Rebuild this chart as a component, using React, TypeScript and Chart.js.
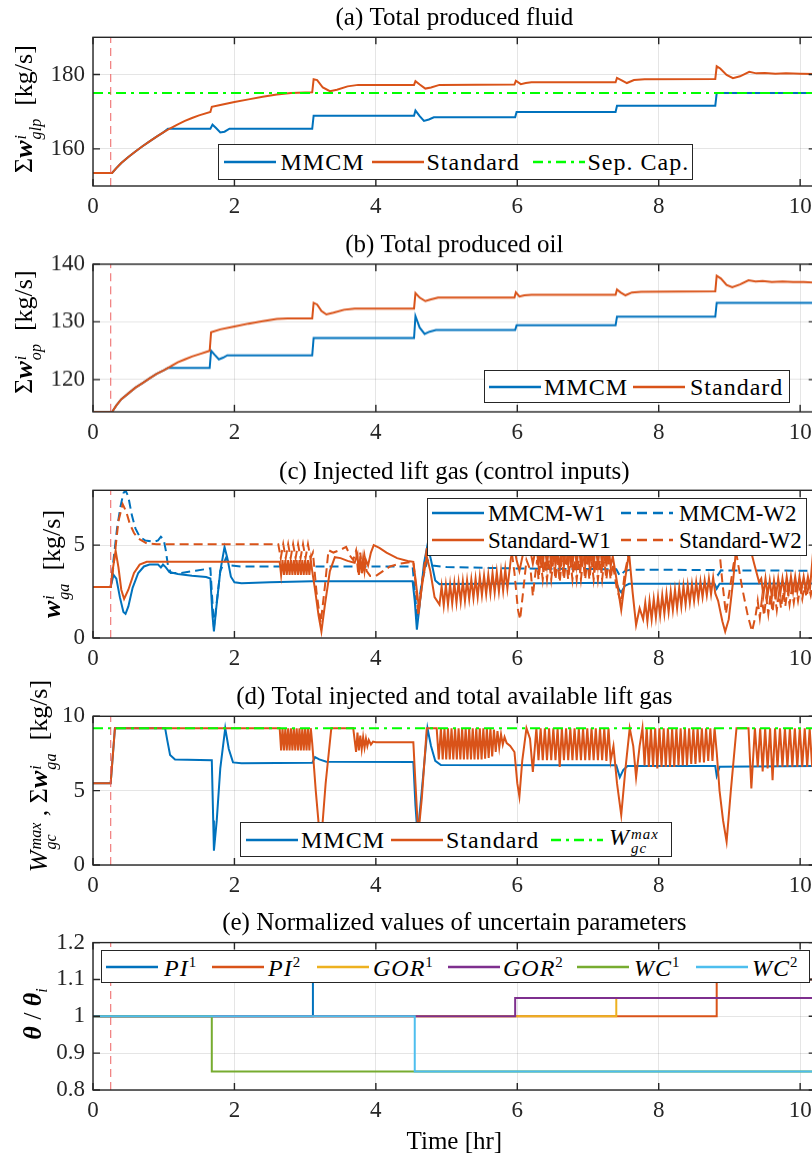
import React, { useEffect, useRef } from 'react';
import Chart from 'chart.js/auto';

type P = [number, number];

// ---------- axes / ticks ----------
const X_MAX = 10.22;
const EVENT_T = 0.25;
const xTickValues = [0, 2, 4, 6, 8, 10];
const aTickValues = [160, 180];
const bTickValues = [120, 130, 140];
const cTickValues = [0, 5];
const dTickValues = [0, 5, 10];
const eTickValues = [0.8, 0.9, 1, 1.1, 1.2];

// ---------- (a) Total produced fluid ----------
const aMmcm: P[] = [[0,153.5],[0.27,153.5],[0.33,154.8],[0.4,156.2],[0.5,157.8],[0.6,159.3],[0.7,160.7],[0.8,162],[0.9,163.3],[1.0,164.5],[1.06,165.4],[1.66,165.4],[1.69,166.5],[1.74,165.6],[1.8,164.4],[1.86,164.6],[1.93,165.4],[3.1,165.4],[3.12,168.9],[4.54,168.9],[4.56,170.3],[4.62,168.8],[4.68,167.5],[4.75,167.9],[4.82,168.5],[5.97,168.5],[5.99,169.9],[7.39,169.9],[7.41,171.6],[8.8,171.6],[8.82,175.0],[10.22,175.0]];
const aStandard: P[] = [[0,153.5],[0.27,153.5],[0.33,154.8],[0.4,156.2],[0.5,157.8],[0.6,159.3],[0.7,160.7],[0.8,162],[0.9,163.3],[1.0,164.5],[1.1,165.6],[1.2,166.6],[1.3,167.5],[1.4,168.3],[1.5,169],[1.66,169.9],[1.68,171.3],[1.8,171.8],[2.0,172.6],[2.2,173.3],[2.4,174],[2.6,174.6],[2.8,175],[3.1,175.2],[3.12,178.7],[3.17,178.5],[3.25,176.5],[3.35,175.5],[3.45,175.9],[3.6,176.8],[3.75,177.2],[4.54,177.2],[4.56,178.2],[4.62,177.3],[4.7,176.2],[4.78,176.5],[4.9,177.2],[5.96,177.3],[5.98,178.3],[6.05,177.4],[6.12,177.7],[6.2,177.9],[7.39,177.9],[7.41,179.1],[7.47,178.5],[7.55,177.7],[7.65,178.5],[7.8,178.7],[8.8,178.8],[8.82,182.2],[8.87,181.6],[8.96,179.9],[9.05,179.0],[9.15,179.5],[9.28,180.7],[9.38,180.3],[9.5,180.4],[9.65,180.2],[9.8,180.3],[10.0,180.2],[10.22,180.1]];
const aSepCap: P[] = [[0,175],[10.22,175]];

// ---------- (b) Total produced oil ----------
const bMmcm: P[] = [[0,114.4],[0.27,114.4],[0.33,115.5],[0.4,116.6],[0.5,117.6],[0.6,118.6],[0.7,119.4],[0.8,120.2],[0.9,121],[1.0,121.6],[1.06,122],[1.65,122],[1.67,125],[1.72,124.3],[1.78,123.5],[1.84,123.8],[1.9,124.2],[3.1,124.2],[3.12,127.2],[4.54,127.2],[4.56,131.0],[4.62,129.0],[4.69,127.9],[4.76,128.3],[4.85,128.6],[5.97,128.6],[5.99,129.4],[7.39,129.4],[7.41,130.9],[8.8,130.9],[8.82,133.3],[10.22,133.3]];
const bStandard: P[] = [[0,114.4],[0.27,114.4],[0.33,115.5],[0.4,116.6],[0.5,117.6],[0.6,118.6],[0.7,119.4],[0.8,120.2],[0.9,121],[1.0,121.6],[1.1,122.3],[1.2,123],[1.3,123.5],[1.4,124],[1.5,124.4],[1.65,125],[1.67,128.2],[1.8,128.7],[2.0,129.2],[2.2,129.7],[2.4,130.1],[2.6,130.5],[2.75,130.6],[3.1,130.6],[3.12,133.3],[3.17,133],[3.23,131.9],[3.3,131.3],[3.4,131.6],[3.55,132.1],[3.7,132.3],[4.54,132.3],[4.56,135],[4.62,134.2],[4.7,133.6],[4.78,133.9],[4.88,134.2],[5.96,134.2],[5.98,135.1],[6.03,134.4],[6.1,134.6],[6.2,134.7],[7.39,134.7],[7.41,135.6],[7.46,135.1],[7.53,134.6],[7.62,135.1],[7.75,135.2],[8.8,135.3],[8.82,138],[8.88,137.5],[8.96,136.4],[9.04,136],[9.15,136.5],[9.27,137.2],[9.37,137],[9.47,137.1],[9.6,136.9],[9.75,137],[9.9,136.9],[10.05,136.9],[10.22,136.8]];

// ---------- (c) Injected lift gas ----------
const cMmcmW1: P[] = [[0,2.75],[0.25,2.75],[0.29,3.4],[0.33,3.2],[0.38,2.2],[0.43,1.4],[0.46,1.3],[0.5,1.7],[0.56,2.7],[0.64,3.5],[0.72,3.85],[0.8,3.95],[0.92,3.95],[0.96,3.8],[0.99,3.95],[1.03,3.8],[1.08,3.55],[1.2,3.45],[1.4,3.35],[1.6,3.28],[1.66,3.2],[1.69,1.2],[1.71,0.35],[1.74,1.5],[1.8,3.6],[1.86,4.9],[1.9,4.3],[1.95,3.3],[2.0,3.0],[2.1,2.95],[2.5,3.0],[3.1,3.05],[4.52,3.05],[4.55,2.0],[4.58,0.45],[4.62,1.8],[4.68,4.0],[4.73,5.0],[4.78,4.2],[4.84,3.1],[4.9,2.9],[5.5,2.92],[7.4,2.98],[7.44,2.6],[7.47,2.45],[7.52,2.8],[7.58,2.92],[8.79,2.92],[8.82,2.65],[8.86,2.92],[10.22,2.93]];
const cMmcmW2: P[] = [[0,2.75],[0.25,2.75],[0.29,4.2],[0.34,5.9],[0.39,7.1],[0.43,7.8],[0.46,7.95],[0.5,7.6],[0.55,6.6],[0.6,5.9],[0.66,5.45],[0.74,5.25],[0.86,5.18],[0.92,5.25],[0.96,5.45],[1.0,5.3],[1.03,4.7],[1.06,3.9],[1.1,3.5],[1.25,3.5],[1.45,3.62],[1.66,3.75],[1.71,0.6],[1.8,3.6],[1.88,4.3],[1.95,3.9],[2.1,3.85],[4.52,3.85],[4.58,1.2],[4.65,3.0],[4.73,4.2],[4.8,3.9],[5.0,3.82],[6.0,3.74],[7.4,3.7],[7.45,3.35],[7.52,3.6],[7.6,3.68],[8.8,3.66],[8.84,3.4],[8.88,3.64],[10.22,3.62]];
const cStandardW1: P[] = [[0,2.75],[0.25,2.75],[0.28,3.7],[0.32,4.7],[0.36,3.8],[0.4,2.6],[0.44,2.1],[0.5,2.6],[0.58,3.5],[0.66,3.95],[0.76,4.1],[2.62,4.1],
  [2.64,4.1],[2.66,3.4],[2.68,4.2],[2.70,3.4],[2.72,4.2],[2.74,3.4],[2.76,4.2],[2.78,3.4],[2.80,4.2],[2.82,3.4],[2.84,4.2],[2.86,3.4],[2.88,4.2],[2.90,3.4],[2.92,4.2],[2.94,3.4],[2.96,4.2],[2.98,3.4],[3.00,4.2],[3.02,3.4],[3.04,4.2],[3.06,3.4],[3.08,4.2],[3.10,3.6],
  [3.14,2.6],[3.19,1.2],[3.23,0.35],[3.28,1.8],[3.35,3.6],[3.42,4.35],[3.5,4.3],[3.6,4.15],[3.7,4.05],[3.74,4.5],[3.76,3.4],[3.78,4.4],[3.8,3.5],[3.82,4.3],[3.84,3.6],[3.86,4.2],[3.89,3.9],[3.93,4.6],[3.97,5.0],[4.05,4.85],[4.15,4.6],[4.3,4.3],[4.45,4.15],[4.53,4.1],[4.56,3.2],[4.61,1.6],[4.66,3.0],[4.72,4.4],[4.77,3.6],[4.83,2.2],[4.9,1.8],
  [4.93,2.8],[4.96,1.75],[4.99,2.85],[5.02,1.8],[5.05,2.9],[5.08,1.85],[5.11,2.95],[5.14,1.9],[5.17,3.0],[5.2,1.95],[5.23,3.05],[5.26,2.0],[5.29,3.1],[5.32,2.1],[5.35,3.15],[5.38,2.15],[5.41,3.2],[5.44,2.2],[5.47,3.3],[5.5,2.3],[5.53,3.35],[5.56,2.35],[5.59,3.4],[5.62,2.4],[5.65,3.5],[5.68,2.45],[5.71,3.55],[5.74,2.5],[5.77,3.6],[5.8,2.55],[5.83,3.7],[5.86,2.65],
  [5.91,4.3],[5.95,5.0],[5.99,4.2],[6.03,3.6],[6.08,4.5],[6.13,5.0],[6.19,4.6],[6.22,4.0],[6.25,4.6],[6.27,5.0],
  [6.30,3.9],[6.33,5.0],[6.36,3.9],[6.39,5.0],[6.42,3.9],[6.45,5.0],[6.48,3.9],[6.51,5.0],[6.54,3.9],[6.57,5.0],[6.60,3.6],[6.63,5.0],[6.66,3.9],[6.69,5.0],[6.72,3.9],[6.75,5.0],[6.78,3.9],[6.81,5.0],[6.84,3.9],[6.87,5.0],[6.90,3.9],[6.93,5.0],[6.96,3.9],[6.99,5.0],[7.02,3.9],[7.05,5.0],[7.08,3.9],[7.11,5.0],[7.14,3.9],[7.17,5.0],[7.20,3.9],[7.23,5.0],[7.26,3.85],[7.29,5.0],[7.32,3.85],
  [7.35,4.4],[7.41,3.0],[7.47,1.5],[7.53,3.3],[7.58,4.6],[7.63,2.5],[7.68,0.7],[7.73,1.6],[7.78,1.0],
  [7.81,1.9],[7.84,0.9],[7.87,2.0],[7.9,1.0],[7.93,2.1],[7.96,1.1],[7.99,2.2],[8.02,1.2],[8.05,2.3],[8.08,1.3],[8.11,2.4],[8.14,1.4],[8.17,2.5],[8.2,1.5],[8.23,2.6],[8.26,1.6],[8.29,2.7],[8.32,1.7],[8.35,2.8],[8.38,1.8],[8.41,2.85],[8.44,1.9],[8.47,2.9],[8.5,2.0],[8.53,3.0],[8.56,2.1],[8.59,3.05],[8.62,2.2],[8.65,3.1],[8.68,2.3],[8.71,3.2],[8.74,2.35],[8.77,3.25],[8.8,2.4],
  [8.84,2.0],[8.9,0.9],[8.94,0.35],[8.99,1.0],[9.05,3.0],[9.1,5.0],[9.15,6.0],[9.25,5.5],[9.35,4.0],[9.42,3.0],
  [9.45,3.2],[9.48,2.3],[9.51,3.2],[9.54,2.3],[9.57,3.1],[9.60,2.2],[9.63,3.1],[9.66,2.3],[9.69,3.2],[9.72,2.4],[9.75,3.2],[9.78,2.4],[9.81,3.3],[9.84,2.5],[9.87,3.3],[9.90,2.5],[9.93,3.3],[9.96,2.5],[9.99,3.3],[10.02,2.6],[10.05,3.3],[10.08,2.6],[10.11,3.3],[10.14,2.7],[10.18,4.5],[10.22,6.0]];
const cStandardW2: P[] = [[0,2.75],[0.25,2.75],[0.3,4.2],[0.36,6.3],[0.42,7.2],[0.47,6.8],[0.52,6.15],[0.58,5.65],[0.64,5.36],[0.76,5.09],[0.9,5.05],[2.62,5.05],
  [2.655,4.3],[2.69,5.05],[2.725,4.3],[2.76,5.05],[2.795,4.3],[2.83,5.05],[2.865,4.3],[2.9,5.05],[2.935,4.3],[2.97,5.05],[3.005,4.3],[3.04,5.05],[3.075,4.3],[3.11,4.6],
  [3.16,2.5],[3.22,0.8],[3.28,2.8],[3.33,4.73],[3.4,4.6],[3.5,4.75],[3.58,4.9],[3.64,4.4],[3.68,4.2],[3.72,4.7],[3.75,3.5],[3.78,4.6],[3.81,3.4],[3.84,4.4],[3.87,3.6],[3.92,3.34],[4.0,3.34],[4.1,3.6],[4.2,3.85],[4.34,4.0],[4.53,4.1],
  [4.56,3.0],[4.6,1.2],[4.66,3.2],[4.72,4.8],[4.8,5.6],[4.9,6.2],[5.3,5.9],[5.86,5.6],
  [5.91,5.0],[5.96,3.5],[6.01,1.5],[6.04,1.0],[6.08,2.4],[6.13,4.2],[6.19,3.6],[6.22,2.26],[6.25,3.3],[6.28,4.2],
  [6.30,3.15],[6.33,4.2],[6.36,3.15],[6.39,4.2],[6.42,3.15],[6.45,4.2],[6.48,3.15],[6.51,4.2],[6.54,3.15],[6.57,4.2],[6.60,3.0],[6.63,4.2],[6.66,3.15],[6.69,4.2],[6.72,3.15],[6.75,4.2],[6.78,3.15],[6.81,4.2],[6.84,3.15],[6.87,4.2],[6.90,3.15],[6.93,4.2],[6.96,3.15],[6.99,4.2],[7.02,3.15],[7.05,4.2],[7.08,3.15],[7.11,4.2],[7.14,3.15],[7.17,4.2],[7.20,3.15],[7.23,4.2],[7.26,3.15],[7.29,4.2],[7.32,3.15],
  [7.35,4.0],[7.41,2.6],[7.47,1.9],[7.52,3.5],[7.58,4.6],[7.63,4.9],[7.68,5.2],[7.75,5.8],[8.2,6.0],[8.8,6.1],
  [8.84,5.5],[8.9,3.0],[8.95,1.3],[9.0,2.5],[9.06,4.0],[9.1,4.5],[9.18,2.7],[9.26,1.2],[9.32,0.36],[9.37,1.2],
  [9.4,2.0],[9.43,1.1],[9.46,2.1],[9.49,1.2],[9.52,2.2],[9.55,1.3],[9.58,2.3],[9.61,1.4],[9.64,2.4],[9.67,1.5],[9.7,2.4],[9.73,1.6],[9.76,2.5],[9.79,1.7],[9.82,2.6],[9.85,1.8],[9.88,2.6],[9.91,1.9],[9.94,2.7],[9.97,2.0],[10.0,2.7],[10.03,2.1],[10.06,2.8],[10.09,2.2],[10.12,2.8],[10.15,2.3],[10.18,2.9],[10.22,2.5]];

// ---------- (d) Total injected / available lift gas ----------
const dMmcm: P[] = [[0,5.5],[0.25,5.5],[0.31,9.2],[1.02,9.2],[1.05,8.4],[1.09,7.4],[1.16,7.1],[1.68,7.05],[1.7,3.0],[1.71,0.96],[1.75,3.0],[1.8,6.5],[1.87,9.2],[1.92,7.8],[1.98,6.9],[2.1,6.85],[3.1,6.87],[3.14,7.25],[3.2,7.1],[3.3,6.95],[4.53,6.93],[4.56,4.0],[4.59,2.0],[4.64,4.5],[4.73,9.2],[4.78,8.0],[4.84,7.0],[4.92,6.72],[7.4,6.7],[7.45,5.9],[7.5,6.4],[7.56,6.65],[8.8,6.65],[8.82,6.0],[8.86,6.6],[10.22,6.65]];
const dStandard: P[] = [[0,5.5],[0.25,5.5],[0.31,9.2],[2.64,9.2],
  [2.66,7.7],[2.68,9.2],[2.70,7.7],[2.72,9.2],[2.74,7.7],[2.76,9.2],[2.78,7.7],[2.80,9.2],[2.82,7.7],[2.84,9.2],[2.86,7.7],[2.88,9.2],[2.90,7.7],[2.92,9.2],[2.94,7.7],[2.96,9.2],[2.98,7.7],[3.00,9.2],[3.02,7.7],[3.04,9.2],[3.06,7.7],[3.08,9.2],[3.10,8.2],
  [3.15,5.0],[3.22,1.2],[3.29,5.5],[3.37,9.2],[3.68,9.2],[3.72,7.6],[3.74,8.9],[3.76,7.7],[3.78,8.7],[3.8,7.8],[3.82,8.6],[3.84,7.9],[3.86,8.5],[3.88,8.0],[3.9,8.4],[3.93,8.1],[3.96,8.3],[4.0,8.25],[4.53,8.25],[4.56,5.5],[4.6,2.0],[4.65,4.5],[4.72,9.2],[4.86,9.2],
  [4.89,7.1],[4.92,9.2],[4.945,7.1],[4.97,9.2],[4.995,7.1],[5.02,9.2],[5.045,7.1],[5.07,9.2],[5.095,7.1],[5.12,9.2],[5.145,7.1],[5.17,9.2],[5.195,7.1],[5.22,9.2],[5.245,7.1],[5.27,9.2],[5.295,7.1],[5.32,9.2],[5.345,7.1],[5.37,9.2],[5.395,7.1],[5.42,9.2],[5.445,7.1],[5.47,9.2],[5.495,7.1],[5.52,9.2],[5.545,7.15],[5.57,9.2],[5.595,7.2],[5.62,9.2],[5.645,7.3],[5.67,9.1],[5.695,7.6],[5.72,9.0],[5.745,7.9],[5.77,8.8],[5.795,8.1],[5.82,8.6],[5.85,8.2],[5.9,8.0],[5.96,7.6],[6.0,5.5],[6.03,4.6],[6.07,7.0],[6.13,9.2],[6.18,8.5],[6.22,6.26],[6.25,8.0],[6.27,9.2],
  [6.30,7.05],[6.33,9.2],[6.36,7.05],[6.39,9.2],[6.42,7.05],[6.45,9.2],[6.48,7.05],[6.51,9.2],[6.54,7.05],[6.57,9.2],[6.60,6.6],[6.63,9.2],[6.66,7.05],[6.69,9.2],[6.72,7.05],[6.75,9.2],[6.78,7.05],[6.81,9.2],[6.84,7.05],[6.87,9.2],[6.90,7.05],[6.93,9.2],[6.96,7.05],[6.99,9.2],[7.02,7.05],[7.05,9.2],[7.08,7.05],[7.11,9.2],[7.14,7.05],[7.17,9.2],[7.20,7.05],[7.23,9.2],[7.26,7.0],[7.29,9.2],[7.32,7.0],
  [7.36,8.0],[7.41,5.5],[7.47,3.36],[7.53,6.5],[7.59,9.2],[7.64,8.0],[7.68,5.9],[7.73,8.0],[7.77,9.2],
  [7.80,6.7],[7.83,9.2],[7.86,6.6],[7.89,9.2],[7.92,6.6],[7.95,9.2],[7.98,6.5],[8.01,9.2],[8.04,6.6],[8.07,9.2],[8.10,6.6],[8.13,9.2],[8.16,6.6],[8.19,9.2],[8.22,6.6],[8.25,9.2],[8.28,6.7],[8.31,9.2],[8.34,6.7],[8.37,9.2],[8.40,6.7],[8.43,9.2],[8.46,6.8],[8.49,9.2],[8.52,6.8],[8.55,9.2],[8.58,6.9],[8.61,9.2],[8.64,6.9],[8.67,9.2],[8.70,7.0],[8.73,9.2],[8.76,7.0],[8.79,9.2],[8.82,7.6],
  [8.86,5.0],[8.91,3.0],[8.96,1.57],[9.02,5.0],[9.1,9.2],[9.27,9.2],[9.31,5.15],[9.36,9.2],
  [9.40,6.6],[9.435,9.2],[9.47,6.3],[9.505,9.2],[9.54,6.5],[9.575,9.2],[9.61,5.7],[9.645,9.2],[9.68,6.6],[9.715,9.2],[9.75,6.6],[9.785,9.2],[9.82,6.6],[9.855,9.2],[9.89,6.6],[9.925,9.2],[9.96,6.6],[9.995,9.2],[10.03,6.6],[10.065,9.2],[10.10,6.6],[10.135,9.2],[10.17,6.6],[10.205,9.2],[10.22,8.5]];
const dWgcMax: P[] = [[0,9.2],[10.22,9.2]];

// ---------- (e) Normalized uncertain parameters ----------
const ePI1: P[] = [[0,1],[3.11,1],[3.11,1.1],[10.22,1.1]];
const ePI2: P[] = [[0,1],[8.82,1],[8.82,1.1],[10.22,1.1]];
const eGOR1: P[] = [[0,1],[7.4,1],[7.4,1.05],[10.22,1.05]];
const eGOR2: P[] = [[0,1],[5.97,1],[5.97,1.05],[10.22,1.05]];
const eWC1: P[] = [[0,1],[1.68,1],[1.68,0.85],[10.22,0.85]];
const eWC2: P[] = [[0,1],[4.55,1],[4.55,0.85],[10.22,0.85]];

// ---------- styles ----------
const SERIF = '"Liberation Serif", "DejaVu Serif", "Noto Serif", serif';
const C_BLUE = '#0072BD';
const C_ORANGE = '#D95319';
const C_YELLOW = '#EDB120';
const C_PURPLE = '#7E2F8E';
const C_GREEN = '#77AC30';
const C_CYAN = '#4DBEEE';
const C_LIME = '#00FF00';
const C_EVENT = 'rgba(236,90,90,0.8)';
const AX = '#262626';
const DASHED = [9, 5];
const DASHDOT = [10, 5, 3, 5];
const CANVAS_W = 850;
const PLOT_LEFT = 93;
const PLOT_RIGHT = 815.7;

type Series = { data: P[]; color: string; dash?: number[]; width?: number };
type Panel = {
  id: string; title: string; top: number; plotTop: number; plotBottom: number; xAxisH: number;
  yMin: number; yMax: number; yTicks: number[]; series: Series[]; xTitle?: string;
};

const PANELS: Panel[] = [
  { id: 'a', title: '(a) Total produced fluid', top: 1, plotTop: 37.3, plotBottom: 186, xAxisH: 36,
    yMin: 150, yMax: 190, yTicks: aTickValues,
    series: [{ data: aMmcm, color: C_BLUE }, { data: aStandard, color: C_ORANGE }, { data: aSepCap, color: C_LIME, dash: DASHDOT }] },
  { id: 'b', title: '(b) Total produced oil', top: 228, plotTop: 264, plotBottom: 411.7, xAxisH: 36,
    yMin: 114.4, yMax: 140, yTicks: bTickValues,
    series: [{ data: bMmcm, color: C_BLUE }, { data: bStandard, color: C_ORANGE }] },
  { id: 'c', title: '(c) Injected lift gas (control inputs)', top: 454.7, plotTop: 490, plotBottom: 638.3, xAxisH: 36,
    yMin: 0, yMax: 7.95, yTicks: cTickValues,
    series: [
      { data: cMmcmW1, color: C_BLUE }, { data: cMmcmW2, color: C_BLUE, dash: DASHED },
      { data: cStandardW1, color: C_ORANGE }, { data: cStandardW2, color: C_ORANGE, dash: DASHED }] },
  { id: 'd', title: '(d) Total injected and total available lift gas', top: 679.7, plotTop: 716, plotBottom: 865, xAxisH: 36,
    yMin: 0, yMax: 10, yTicks: dTickValues,
    series: [{ data: dMmcm, color: C_BLUE }, { data: dStandard, color: C_ORANGE }, { data: dWgcMax, color: C_LIME, dash: DASHDOT }] },
  { id: 'e', title: '(e) Normalized values of uncertain parameters', top: 905.7, plotTop: 942.3, plotBottom: 1090, xAxisH: 67,
    yMin: 0.8, yMax: 1.2, yTicks: eTickValues, xTitle: 'Time [hr]',
    series: [
      { data: ePI1, color: C_BLUE }, { data: ePI2, color: C_ORANGE }, { data: eGOR1, color: C_YELLOW },
      { data: eGOR2, color: C_PURPLE }, { data: eWC1, color: C_GREEN }, { data: eWC2, color: C_CYAN }] },
];

const boxPlugin = {
  id: 'boxTicks',
  afterDatasetsDraw(chart: any) {
    const { ctx, chartArea, scales } = chart;
    const { left, right, top, bottom } = chartArea;
    ctx.save();
    ctx.strokeStyle = AX;
    ctx.lineWidth = 1.4;
    ctx.strokeRect(left, top, right - left, bottom - top);
    const L = 7;
    ctx.beginPath();
    scales.x.ticks.forEach((t: any) => {
      const px = scales.x.getPixelForValue(t.value);
      ctx.moveTo(px, bottom); ctx.lineTo(px, bottom - L);
      ctx.moveTo(px, top); ctx.lineTo(px, top + L);
    });
    scales.y.ticks.forEach((t: any) => {
      const py = scales.y.getPixelForValue(t.value);
      ctx.moveTo(left, py); ctx.lineTo(left + L, py);
      ctx.moveTo(right, py); ctx.lineTo(right - L, py);
    });
    ctx.stroke();
    ctx.restore();
  },
};

const fmtTick = (v: any) => String(Math.round(Number(v) * 1000) / 1000);

function PanelChart({ panel }: { panel: Panel }) {
  const ref = useRef<HTMLCanvasElement | null>(null);
  const height = panel.plotBottom - panel.top + panel.xAxisH;
  useEffect(() => {
    if (!ref.current) return;
    const n = panel.series.length;
    const datasets: any[] = panel.series.map((s, i) => ({
      data: s.data.map(([x, y]) => ({ x, y })),
      borderColor: s.color,
      borderWidth: s.width ?? 2,
      borderDash: s.dash ?? [],
      pointRadius: 0,
      fill: false,
      tension: 0,
      order: n - i,
    }));
    datasets.push({
      data: [{ x: EVENT_T, y: panel.yMin }, { x: EVENT_T, y: panel.yMax }],
      borderColor: C_EVENT, borderWidth: 1.2, borderDash: [8, 5], pointRadius: 0, fill: false, order: -1,
    });
    const tickFont = { family: SERIF, size: 23 };
    const chart = new Chart(ref.current, {
      type: 'line',
      data: { datasets },
      plugins: [boxPlugin],
      options: {
        animation: false,
        responsive: false,
        devicePixelRatio: 1,
        events: [],
        layout: { padding: { left: 0, right: CANVAS_W - PLOT_RIGHT, top: 0, bottom: 0 } },
        plugins: {
          legend: { display: false },
          tooltip: { enabled: false },
          title: {
            display: true, text: panel.title, fullSize: false, color: '#000',
            font: { family: SERIF, size: 25, weight: 'normal' },
            padding: { top: 2, bottom: panel.plotTop - panel.top - 32 },
          },
        },
        scales: {
          x: {
            type: 'linear', min: 0, max: X_MAX,
            afterBuildTicks: (s: any) => { s.ticks = xTickValues.map((v) => ({ value: v })); },
            afterFit: (s: any) => { s.height = panel.xAxisH; },
            ticks: { font: tickFont, color: AX, padding: 7, autoSkip: false, maxRotation: 0, minRotation: 0, callback: fmtTick },
            grid: { color: 'rgba(0,0,0,0.1)', drawTicks: false, lineWidth: 1 },
            border: { display: false },
            title: panel.xTitle
              ? { display: true, text: panel.xTitle, color: '#000', font: { family: SERIF, size: 25 }, padding: { top: 0, bottom: 0 } }
              : { display: false },
          },
          y: {
            type: 'linear', min: panel.yMin, max: panel.yMax,
            afterBuildTicks: (s: any) => { s.ticks = panel.yTicks.map((v) => ({ value: v })); },
            afterFit: (s: any) => { s.width = PLOT_LEFT; },
            ticks: { font: tickFont, color: AX, padding: 8, autoSkip: false, callback: fmtTick },
            grid: { color: 'rgba(0,0,0,0.1)', drawTicks: false, lineWidth: 1 },
            border: { display: false },
          },
        },
      } as any,
    });
    return () => chart.destroy();
  }, [panel]);
  return (
    <div style={{ position: 'absolute', left: 0, top: panel.top, width: CANVAS_W, height }}>
      <canvas ref={ref} width={CANVAS_W} height={height} style={{ width: CANVAS_W, height, display: 'block' }} />
    </div>
  );
}

// ---------- math-ish text helpers ----------
function SS({ sup, sub }: { sup: string; sub: string }) {
  return (
    <span style={{ display: 'inline-flex', flexDirection: 'column', fontSize: '0.62em', lineHeight: 0.95, verticalAlign: '0.38em', marginLeft: 1, fontStyle: 'italic' }}>
      <span>{sup}</span><span>{sub}</span>
    </span>
  );
}
const W = () => <b><i>w</i></b>;

function YLabel({ cx, cy, children }: { cx: number; cy: number; children: React.ReactNode }) {
  return (
    <div style={{ position: 'absolute', left: cx, top: cy, transform: 'translate(-50%,-50%) rotate(-90deg)', whiteSpace: 'nowrap', fontSize: 26, lineHeight: 1, fontFamily: SERIF, color: '#000' }}>
      {children}
    </div>
  );
}

type LItem = { label: React.ReactNode; color: string; dash?: string; lx: number; tx: number; row: number };
function Legend({ left, top, width, height, items, fontSize, spacing }: { left: number; top: number; width: number; height: number; items: LItem[]; fontSize: number; spacing: number }) {
  return (
    <div style={{ position: 'absolute', left, top, width, height, boxSizing: 'border-box', border: `1.4px solid ${AX}`, background: '#fff', fontFamily: SERIF }}>
      {items.map((it, i) => (
        <React.Fragment key={i}>
          <svg width={52} height={12} style={{ position: 'absolute', left: it.lx, top: it.row - 7 }}>
            <line x1={0} y1={6} x2={52} y2={6} stroke={it.color} strokeWidth={2.4} strokeDasharray={it.dash} />
          </svg>
          <div style={{ position: 'absolute', left: it.tx, top: it.row - 1, transform: 'translateY(-50%)', whiteSpace: 'nowrap', fontSize, letterSpacing: spacing, lineHeight: 1, color: '#000' }}>
            {it.label}
          </div>
        </React.Fragment>
      ))}
    </div>
  );
}

const SVG_DASH = '10 6';
const SVG_DASHDOT = '10 5 3 5';

export default function App() {
  return (
    <div style={{ position: 'fixed', left: 0, top: 0, width: 812, height: 1157, overflow: 'hidden', background: '#fff', fontFamily: SERIF }}>
      {PANELS.map((p) => <PanelChart key={p.id} panel={p} />)}

      <YLabel cx={27} cy={109}>Σ<W /><SS sup="i" sub="glp" />&nbsp;&nbsp;[kg/s]</YLabel>
      <YLabel cx={27} cy={332}>Σ<W /><SS sup="i" sub="op" />&nbsp;&nbsp;[kg/s]</YLabel>
      <YLabel cx={55} cy={564}><W /><SS sup="i" sub="ga" />&nbsp;&nbsp;[kg/s]</YLabel>
      <YLabel cx={42} cy={776}><i>W</i><SS sup="max" sub="gc" /> , Σ<W /><SS sup="i" sub="ga" />&nbsp;&nbsp;[kg/s]</YLabel>
      <YLabel cx={35} cy={1014}><b><i>θ</i></b> / <b><i>θ</i></b><sub style={{ fontSize: '0.62em' }}><i>i</i></sub></YLabel>

      <Legend left={217.5} top={144.3} width={475.5} height={35.7} fontSize={24} spacing={1}
        items={[
          { label: 'MMCM', color: C_BLUE, lx: 5, tx: 62, row: 18 },
          { label: 'Standard', color: C_ORANGE, lx: 153, tx: 208, row: 18 },
          { label: 'Sep. Cap.', color: C_LIME, dash: SVG_DASHDOT, lx: 314, tx: 369, row: 18 },
        ]} />
      <Legend left={484} top={370} width={306} height={33.3} fontSize={24} spacing={1}
        items={[
          { label: 'MMCM', color: C_BLUE, lx: 4, tx: 59, row: 17 },
          { label: 'Standard', color: C_ORANGE, lx: 148, tx: 205, row: 17 },
        ]} />
      <Legend left={427} top={498} width={380} height={57.7} fontSize={23} spacing={0}
        items={[
          { label: 'MMCM-W1', color: C_BLUE, lx: 4, tx: 60, row: 15 },
          { label: 'MMCM-W2', color: C_BLUE, dash: SVG_DASH, lx: 193, tx: 251, row: 15 },
          { label: 'Standard-W1', color: C_ORANGE, lx: 4, tx: 60, row: 42 },
          { label: 'Standard-W2', color: C_ORANGE, dash: SVG_DASH, lx: 193, tx: 251, row: 42 },
        ]} />
      <Legend left={240} top={821.7} width={432} height={35.6} fontSize={24} spacing={1}
        items={[
          { label: 'MMCM', color: C_BLUE, lx: 5, tx: 60, row: 18 },
          { label: 'Standard', color: C_ORANGE, lx: 150, tx: 205, row: 18 },
          { label: <span><i>W</i><SS sup="max" sub="gc" /></span>, color: C_LIME, dash: SVG_DASHDOT, lx: 310, tx: 368, row: 18 },
        ]} />
      <Legend left={101} top={950} width={709} height={32.7} fontSize={24} spacing={1}
        items={[
          { label: <span><i>PI</i><sup style={{ fontSize: '0.62em' }}>1</sup></span>, color: C_BLUE, lx: 4, tx: 62, row: 17 },
          { label: <span><i>PI</i><sup style={{ fontSize: '0.62em' }}>2</sup></span>, color: C_ORANGE, lx: 110, tx: 166, row: 17 },
          { label: <span><i>GOR</i><sup style={{ fontSize: '0.62em' }}>1</sup></span>, color: C_YELLOW, lx: 215, tx: 271, row: 17 },
          { label: <span><i>GOR</i><sup style={{ fontSize: '0.62em' }}>2</sup></span>, color: C_PURPLE, lx: 346, tx: 401, row: 17 },
          { label: <span><i>WC</i><sup style={{ fontSize: '0.62em' }}>1</sup></span>, color: C_GREEN, lx: 475, tx: 532, row: 17 },
          { label: <span><i>WC</i><sup style={{ fontSize: '0.62em' }}>2</sup></span>, color: C_CYAN, lx: 594, tx: 650, row: 17 },
        ]} />
    </div>
  );
}
